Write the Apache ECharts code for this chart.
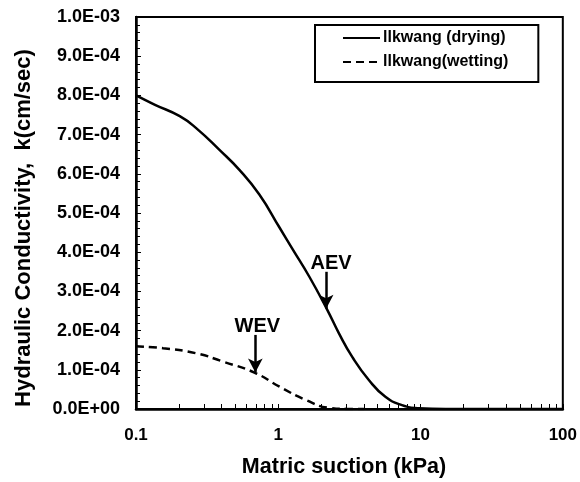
<!DOCTYPE html>
<html>
<head>
<meta charset="utf-8">
<script src="https://cdn.jsdelivr.net/npm/echarts@6/dist/echarts.min.js"></script>
<style>
html,body{margin:0;padding:0;background:#fff;}
#chart{width:580px;height:482px;}
</style>
</head>
<body>
<div id="chart"></div>
<script>
// Matric suction (kPa) and hydraulic conductivity (cm/sec)
const dryingSuction = [0.1, 0.136, 0.203, 0.266, 0.386, 0.533, 0.736, 1.02, 1.26, 1.65, 2.21, 2.67, 3.31, 4.33, 5.66, 7.40, 9.68, 15, 30, 100];
const dryingK = [8.0e-4, 7.76e-4, 7.47e-4, 7.16e-4, 6.61e-4, 6.10e-4, 5.47e-4, 4.63e-4, 4.08e-4, 3.38e-4, 2.53e-4, 1.93e-4, 1.33e-4, 0.74e-4, 0.31e-4, 0.10e-4, 0.02e-4, 0, 0, 0];
const wettingSuction = [0.1, 0.155, 0.266, 0.408, 0.68, 1.02, 1.56, 2.27, 3.0, 4.0];
const wettingK = [1.60e-4, 1.55e-4, 1.42e-4, 1.21e-4, 0.93e-4, 0.57e-4, 0.23e-4, 0.03e-4, 0.003e-4, 0];
const seriesNames = ['llkwang (drying)', 'llkwang(wetting)'];
const xTickValues = [0.1, 1, 10, 100];
const xTickLabels = ['0.1', '1', '10', '100'];
const xMinorTickValues = [0.1,0.2,0.3,0.4,0.5,0.6,0.7,0.8,0.9,1,2,3,4,5,6,7,8,9,10,20,30,40,50,60,70,80,90,100];
const yTickLabels = ['0.0E+00','1.0E-04','2.0E-04','3.0E-04','4.0E-04','5.0E-04','6.0E-04','7.0E-04','8.0E-04','9.0E-04','1.0E-03'];
const annotations = ['AEV', 'WEV'];

const FONT = '"Liberation Sans", Arial, sans-serif';
const chart = echarts.init(document.getElementById('chart'), null, {renderer: 'canvas'});

function arrowLine(x, y0, y1, text, dx) {
  return {
    silent: true,
    symbol: ['none', 'arrow'],
    symbolSize: [11, 14],
    lineStyle: {color: '#000', width: 2.5, type: 'solid'},
    label: {show: true, position: 'start', formatter: text, color: '#000', fontFamily: FONT, fontWeight: 'bold', fontSize: 20, distance: 0, offset: [dx, 2]},
    data: [[{coord: [x, y0]}, {coord: [x, y1]}]],
    animation: false
  };
}

const option = {
  animation: false,
  backgroundColor: '#fff',
  grid: {left: 136, right: 15, top: 17, bottom: 73, show: true, borderColor: '#000', borderWidth: 2, containLabel: false},
  legend: {
    orient: 'vertical', left: 315, top: 25,
    padding: [5, 30, 12, 27], itemGap: 8, itemWidth: 37, itemHeight: 14,
    borderColor: '#000', borderWidth: 2, backgroundColor: '#fff',
    itemStyle: {opacity: 0},
    textStyle: {fontFamily: FONT, fontWeight: 'bold', fontSize: 16, color: '#000', padding: [0, 0, 0, -2]},
    data: seriesNames
  },
  xAxis: {
    type: 'log', logBase: 10, min: 0.1, max: 100,
    axisLine: {show: true, lineStyle: {color: '#000', width: 2.5}},
    axisTick: {show: true, inside: true, length: 5, lineStyle: {color: '#000', width: 1}, customValues: xMinorTickValues},
    axisLabel: {show: true, customValues: xTickValues, margin: 18, color: '#000', fontFamily: FONT, fontWeight: 'bold', fontSize: 17,
      formatter: function (v) { const i = xTickValues.findIndex(t => Math.abs(Math.log10(t) - Math.log10(v)) < 1e-6); return i >= 0 ? xTickLabels[i] : ''; }},
    splitLine: {show: false}
  },
  yAxis: {
    type: 'value', min: 0, max: 1e-3, interval: 1e-4,
    axisLine: {show: true, lineStyle: {color: '#000', width: 2.5}},
    axisTick: {show: true, inside: true, length: 5, lineStyle: {color: '#000', width: 1}},
    minorTick: {show: true, splitNumber: 5, length: 4, lineStyle: {color: '#000', width: 1}},
    axisLabel: {margin: 16, color: '#000', fontFamily: FONT, fontWeight: 'bold', fontSize: 18,
      formatter: function (v) { return yTickLabels[Math.round(v / 1e-4)]; }},
    splitLine: {show: false}
  },
  series: [
    {
      name: seriesNames[0], type: 'line', symbol: 'none', smooth: 0.5,
      lineStyle: {color: '#000', width: 2.5, type: 'solid'}, itemStyle: {color: '#000'},
      data: dryingSuction.map((s, i) => [s, dryingK[i]]),
      markLine: arrowLine(2.17, 3.5e-4, 2.56e-4, annotations[0], 5),
      z: 3
    },
    {
      name: seriesNames[1], type: 'line', symbol: 'none', smooth: 0.5,
      lineStyle: {color: '#000', width: 2.5, type: [8, 5]}, itemStyle: {color: '#000'},
      data: wettingSuction.map((s, i) => [s, wettingK[i]]),
      markLine: arrowLine(0.69, 1.89e-4, 0.93e-4, annotations[1], 2),
      z: 3
    }
  ],
  graphic: [
    {type: 'text', x: 24, y: 228, rotation: Math.PI / 2, style: {text: 'Hydraulic Conductivity,  k(cm/sec)', fill: '#000', font: 'bold 22px ' + FONT, align: 'center', verticalAlign: 'middle'}},
    {type: 'text', x: 344, y: 467, style: {text: 'Matric suction (kPa)', fill: '#000', font: 'bold 21.5px ' + FONT, align: 'center', verticalAlign: 'middle'}}
  ]
};
chart.setOption(option);
</script>
</body>
</html>
